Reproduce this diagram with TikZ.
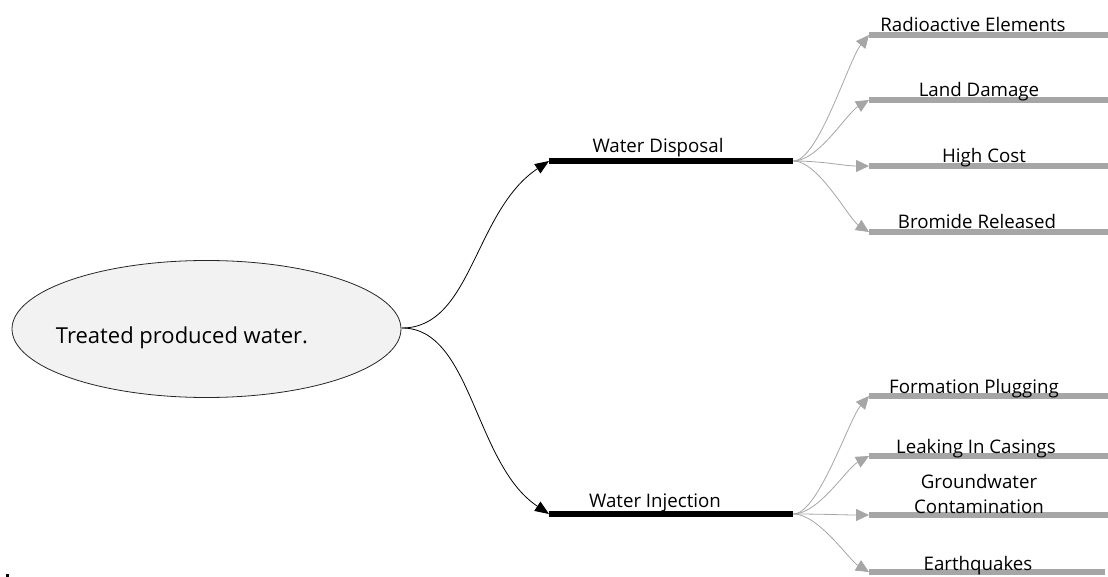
\documentclass[tikz,border=0pt]{standalone}
\usepackage{fontspec}
\setmainfont{Open Sans}
\usetikzlibrary{arrows.meta,shapes.geometric}
\definecolor{barGray}{HTML}{A6A6A6}
\definecolor{rootFill}{HTML}{F2F2F2}
\begin{document}
\begin{tikzpicture}[x=1pt,y=-1pt,
  root/.style={ellipse,draw=black!85,line width=0.8pt,fill=rootFill,
    minimum width=389pt,minimum height=137pt,inner sep=0pt},
  rootText/.style={anchor=base,font=\fontsize{22}{26}\selectfont},
  mainBar/.style={rectangle,fill=black,inner sep=0pt,anchor=west,
    minimum width=244pt,minimum height=6.5pt},
  subBar/.style={rectangle,fill=barGray,inner sep=0pt,anchor=west,
    minimum width=239pt,minimum height=6.5pt},
  barLabel/.style={anchor=base,inner sep=0pt,font=\fontsize{18.7}{25}\selectfont},
  mainLink/.style={draw=black,line width=0.8pt,
    -{Triangle[length=14pt,width=11pt]}},
  subLink/.style={draw=barGray,line width=0.8pt,
    -{Triangle[length=13pt,width=12pt]}},
]
\useasboundingbox (0,0) rectangle (1108,577);

% root topic
\node[root] (root) at (206.5,329) {};
\node[rootText] (rootT) at (182,343) {Treated produced water.};

% main branches
\node[mainBar] (disp) at (549,161) {};
\node[barLabel] (dispT) at (658,153) {Water Disposal};
\node[mainBar] (inj) at (549,514) {};
\node[barLabel] (injT) at (655,507) {Water Injection};

\coordinate (rootE) at (402,328);
\draw[mainLink] (rootE) .. controls +(70,0) and +(-75,50) .. (disp.west);
\draw[mainLink] (rootE) .. controls +(70,0) and +(-75,-50) .. (inj.west);

% disposal sub-topics
\node[subBar] (rad) at (869,35) {};
\node[barLabel] (radT) at (973,32) {Radioactive Elements};
\node[subBar] (land) at (869,100) {};
\node[barLabel] (landT) at (979,97) {Land Damage};
\node[subBar] (cost) at (869,166) {};
\node[barLabel] (costT) at (984,163) {High Cost};
\node[subBar] (brom) at (869,232) {};
\node[barLabel] (bromT) at (977,229) {Bromide Released};

\draw[subLink] (disp.east) .. controls +(25,0) and +(-20,24) .. (rad.west);
\draw[subLink] (disp.east) .. controls +(25,0) and +(-22,13) .. (land.west);
\draw[subLink] (disp.east) .. controls +(30,0) and +(-25,0) .. (cost.west);
\draw[subLink] (disp.east) .. controls +(25,0) and +(-20,-13) .. (brom.west);

% injection sub-topics
\node[subBar] (plug) at (869,396) {};
\node[barLabel] (plugT) at (974,393) {Formation Plugging};
\node[subBar] (leak) at (869,456) {};
\node[barLabel] (leakT) at (976,453) {Leaking In Casings};
\node[subBar] (ground) at (869,515) {};
\node[barLabel,align=center] (groundT) at (979,513) {Groundwater\\Contamination};
\node[subBar,minimum width=236pt] (quake) at (869,572) {};
\node[barLabel] (quakeT) at (978,570) {Earthquakes};

\draw[subLink] (inj.east) .. controls +(25,0) and +(-20,23) .. (plug.west);
\draw[subLink] (inj.east) .. controls +(25,0) and +(-22,12) .. (leak.west);
\draw[subLink] (inj.east) .. controls +(30,0) and +(-25,0) .. (ground.west);
\draw[subLink] (inj.east) .. controls +(25,0) and +(-20,-12) .. (quake.west);

% small mark in the lower left corner
\fill[black] (6,574) rectangle (9,577);
\end{tikzpicture}
\end{document}
